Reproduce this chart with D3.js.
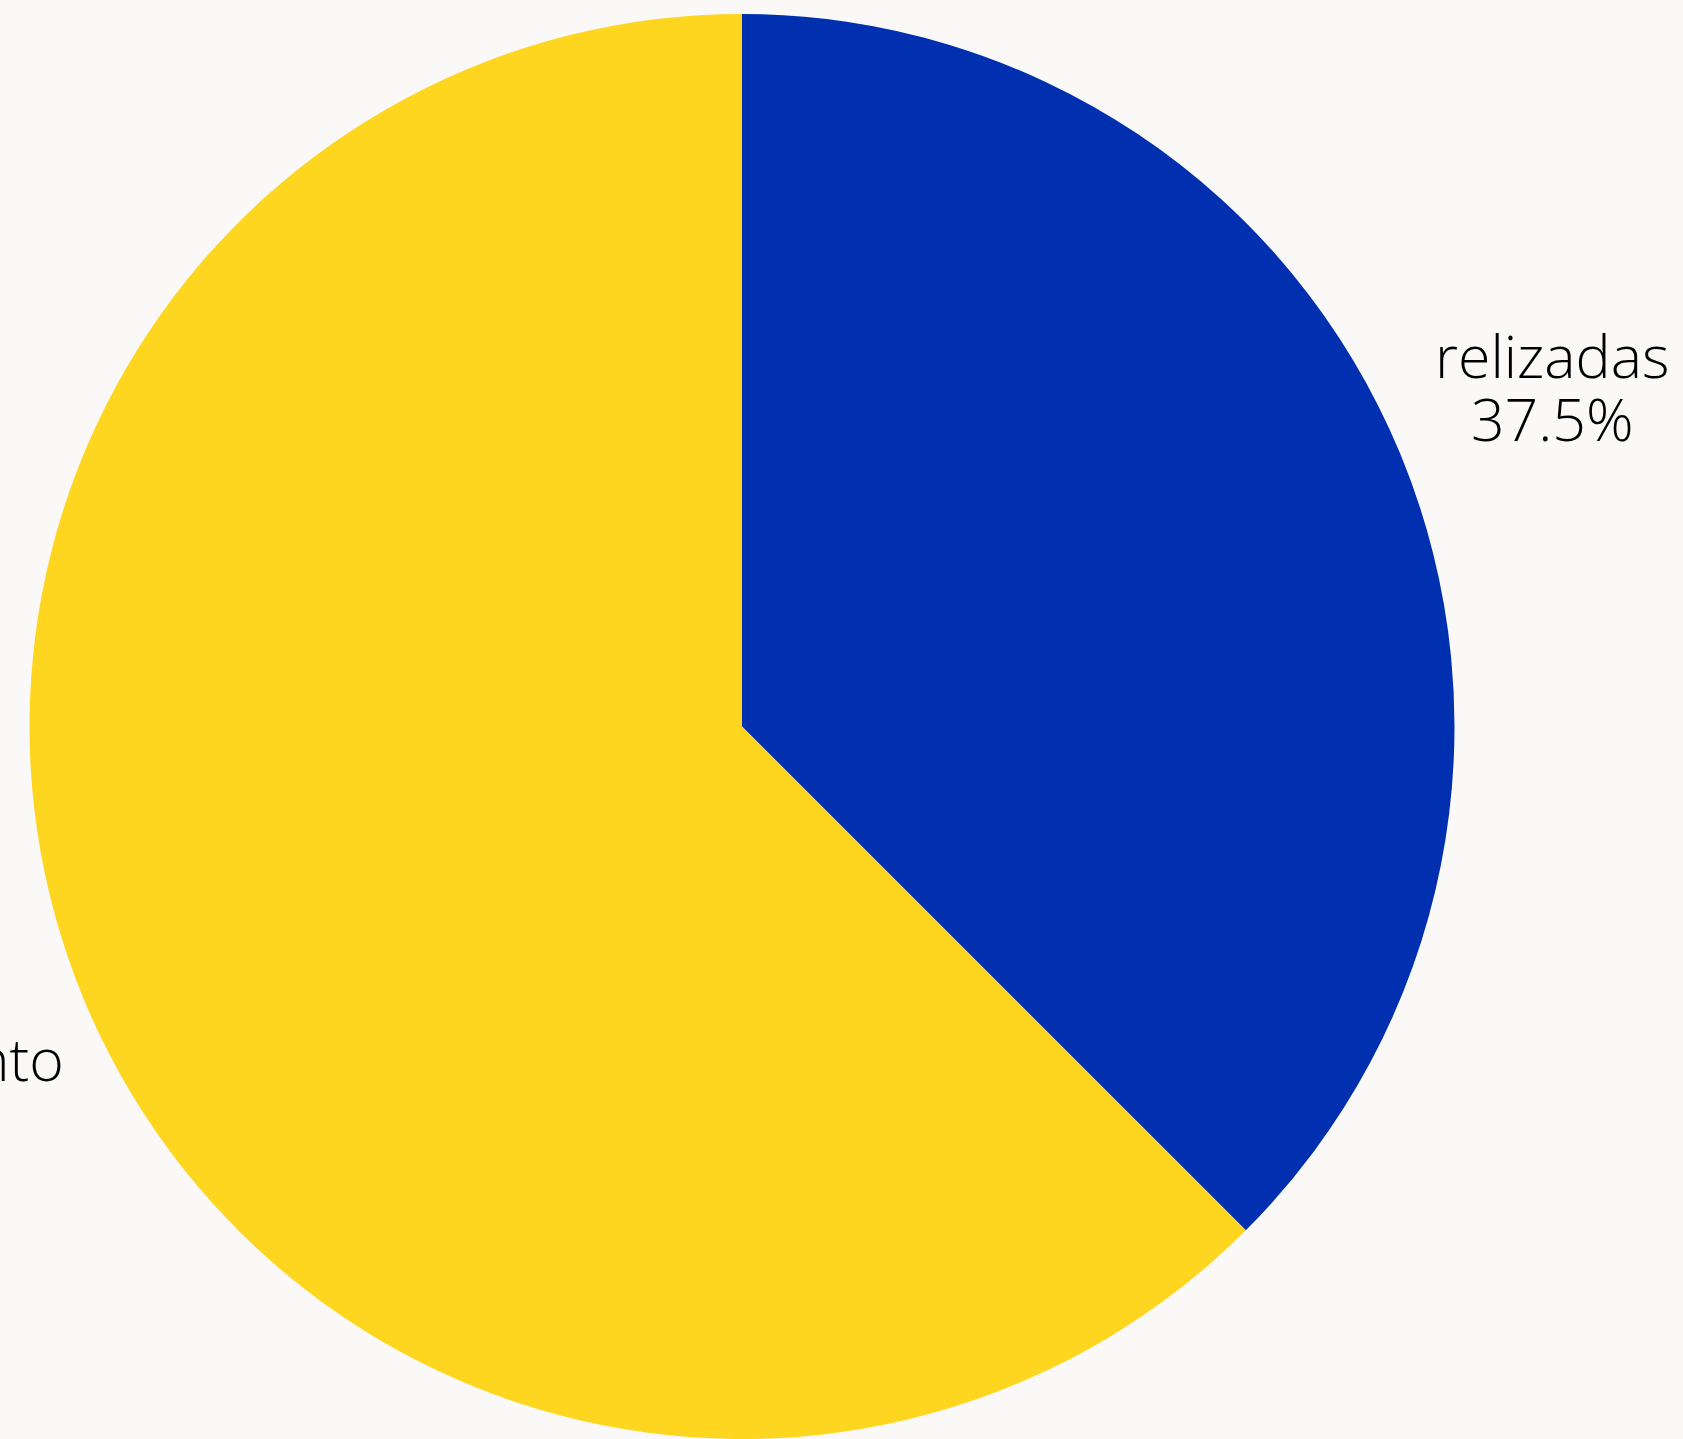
<!DOCTYPE html>
<html>
<head>
<meta charset="utf-8">
<script src="https://cdn.jsdelivr.net/npm/d3@7"></script>
<style>
html,body{margin:0;padding:0;background:#faf9f7;overflow:hidden;}
svg{display:block;}
</style>
</head>
<body>
<svg id="chart" width="1683" height="1439"></svg>
<script>
const categories = ["relizadas", "andamento"];
const labelLines = [["relizadas", "37.5%"], ["em", "andamento", "62.5%"]];
const values = [37.5, 62.5];
const colors = ["#002faf", "#ffd61f"];

const W = 1683, H = 1439;
const cx = 742, cy = 726.5, R = 712.5;
const svg = d3.select("#chart");
svg.append("rect").attr("width", W).attr("height", H).attr("fill", "#faf9f7");
const g = svg.append("g").attr("transform", `translate(${cx},${cy})`);

const pie = d3.pie().sort(null).value(d => d)(values);
const arc = d3.arc().innerRadius(0).outerRadius(R);
g.selectAll("path.slice").data(pie).join("path")
  .attr("class", "slice")
  .attr("d", arc)
  .attr("fill", (d, i) => colors[i]);

const labelArc = d3.arc().innerRadius(877).outerRadius(877);
const lineH = 63;
const lab = g.selectAll("text.lbl").data(pie).join("text")
  .attr("class", "lbl")
  .attr("transform", d => {
    const c = labelArc.centroid(d);
    const nudge = c[0] < 0 ? -21 : 0;
    return `translate(${c[0] + nudge},${c[1]})`;
  })
  .attr("text-anchor", "middle")
  .attr("font-family", "'Open Sans', sans-serif")
  .attr("font-weight", 300)
  .attr("font-size", 59)
  .attr("fill", "#000");
lab.each(function(d, i) {
  const lines = labelLines[i];
  const n = lines.length;
  d3.select(this).selectAll("tspan").data(lines).join("tspan")
    .attr("x", 0)
    .attr("y", (t, j) => (j - (n - 1) / 2) * lineH + 19)
    .text(t => t);
});
</script>
</body>
</html>
